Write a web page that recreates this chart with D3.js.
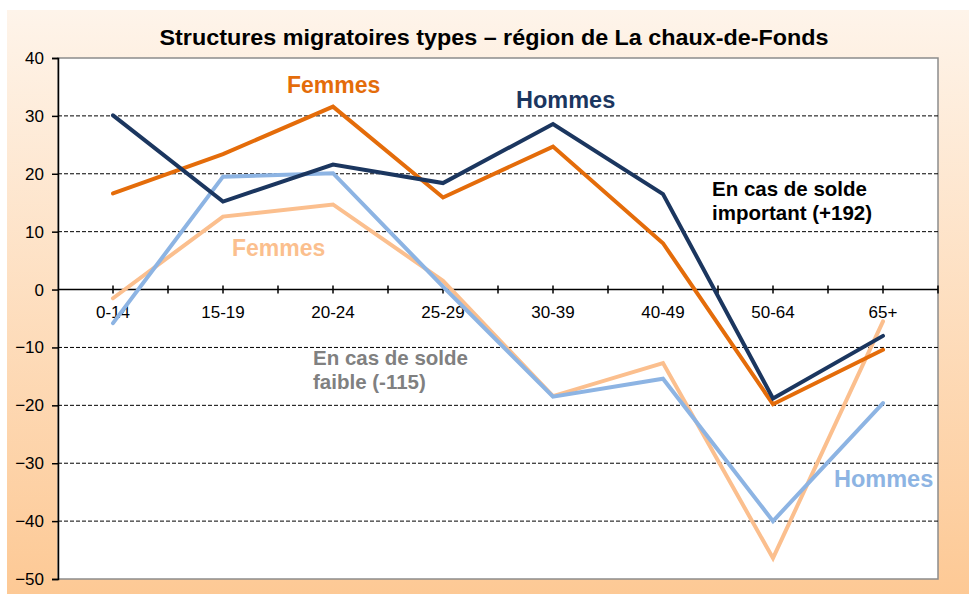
<!DOCTYPE html>
<html>
<head>
<meta charset="utf-8">
<script src="https://cdn.jsdelivr.net/npm/d3@7"></script>
<style>
  body { margin: 0; background: #fff; }
  svg { display: block; font-family: "Liberation Sans", Arial, sans-serif; }
</style>
</head>
<body>
<svg id="chart" width="969" height="594"></svg>
<script>
// age groups
const categories = ["0-14", "15-19", "20-24", "25-29", "30-39", "40-49", "50-64", "65+"];
const yTicks = [40, 30, 20, 10, 0, -10, -20, -30, -40, -50];

// strong balance (+192)
const hommesFort = [30.1, 15.2, 21.6, 18.4, 28.6, 16.5, -18.8, -8.0];
const femmesFort = [16.6, 23.4, 31.6, 15.9, 24.7, 8.0, -19.8, -10.4];
// weak balance (-115)
const hommesFaible = [-5.8, 19.5, 20.1, 0.5, -18.5, -15.4, -40.0, -19.6];
const femmesFaible = [-1.5, 12.6, 14.7, 1.5, -18.4, -12.7, -46.4, -5.5];

const svg = d3.select("#chart");
const margin = { left: 58, top: 58, right: 938, bottom: 579 };

// background panel with gradient
const defs = svg.append("defs");
const grad = defs.append("linearGradient")
	.attr("id", "bg")
	.attr("x1", 0).attr("y1", 0).attr("x2", 0).attr("y2", 1);
grad.append("stop").attr("offset", "0%").attr("stop-color", "#fef4ea");
grad.append("stop").attr("offset", "100%").attr("stop-color", "#fdc995");

svg.append("rect")
	.attr("x", 7).attr("y", 10)
	.attr("width", 969 - 7).attr("height", 594 - 10)
	.attr("fill", "url(#bg)");

const x = d3.scaleBand()
	.domain(categories)
	.range([margin.left, margin.right]);
const y = d3.scaleLinear()
	.domain([-50, 40])
	.range([margin.bottom, margin.top]);

// plot area
svg.append("rect")
	.attr("x", margin.left).attr("y", margin.top)
	.attr("width", margin.right - margin.left)
	.attr("height", margin.bottom - margin.top)
	.attr("fill", "#fff")
	.attr("stroke", "#8c8c8c")
	.attr("stroke-width", 1.5);

// title
svg.append("text")
	.attr("x", 494).attr("y", 45)
	.attr("text-anchor", "middle")
	.attr("font-size", 22)
	.attr("font-weight", "bold")
	.attr("textLength", 669)
	.attr("lengthAdjust", "spacingAndGlyphs")
	.attr("fill", "#000")
	.text("Structures migratoires types – région de La chaux-de-Fonds");

// grid
svg.append("g")
	.selectAll("line")
	.data(yTicks.filter(d => d !== 0 && d !== 40 && d !== -50))
	.enter().append("line")
	.attr("x1", margin.left).attr("x2", margin.right)
	.attr("y1", d => y(d)).attr("y2", d => y(d))
	.attr("stroke", "#000")
	.attr("stroke-width", 1)
	.attr("stroke-dasharray", "4,2");

// y axis
const yAxis = svg.append("g")
	.attr("transform", `translate(${margin.left},0)`)
	.call(d3.axisLeft(y).tickValues(yTicks).tickSize(6).tickPadding(8));
yAxis.select(".domain").attr("stroke", "#000").attr("stroke-width", 1.5);
yAxis.selectAll(".tick line").attr("stroke", "#000").attr("stroke-width", 1.5);
yAxis.selectAll("text")
	.attr("font-size", 17)
	.attr("font-family", "Liberation Sans, Arial, sans-serif")
	.attr("fill", "#000");

// zero axis
const xTickPos = d3.range(0, categories.length * 2 + 1).map(i => margin.left + i * x.bandwidth() / 2);
svg.append("line")
	.attr("x1", margin.left).attr("x2", margin.right)
	.attr("y1", y(0)).attr("y2", y(0))
	.attr("stroke", "#000").attr("stroke-width", 1.5);
svg.append("g")
	.selectAll("line")
	.data(xTickPos.slice(1))
	.enter().append("line")
	.attr("x1", d => d).attr("x2", d => d)
	.attr("y1", y(0) - 4).attr("y2", y(0) + 4)
	.attr("stroke", "#000").attr("stroke-width", 1.5);
svg.append("g")
	.selectAll("text")
	.data(categories)
	.enter().append("text")
	.attr("x", d => x(d) + x.bandwidth() / 2)
	.attr("y", y(0) + 28)
	.attr("text-anchor", "middle")
	.attr("font-size", 17)
	.attr("fill", "#000")
	.text(d => d);

// lines
const line = d3.line()
	.x((d, i) => x(categories[i]) + x.bandwidth() / 2)
	.y(d => y(d));

const series = [
	{ values: femmesFaible, color: "#fbbf8e" },
	{ values: hommesFaible, color: "#8db4e3" },
	{ values: femmesFort, color: "#e46c0a" },
	{ values: hommesFort, color: "#1b365f" }
];
series.forEach(s => {
	svg.append("path")
		.datum(s.values)
		.attr("fill", "none")
		.attr("stroke", s.color)
		.attr("stroke-width", 4)
		.attr("stroke-linejoin", "miter")
		.attr("stroke-linecap", "round")
		.attr("d", line);
});

// annotations
const labels = [
	{ text: "Femmes", x: 287, y: 93, color: "#e46c0a", size: 23 },
	{ text: "Hommes", x: 516, y: 108, color: "#1b365f", size: 23.5 },
	{ text: "Femmes", x: 232, y: 256, color: "#fbbf8e", size: 23 },
	{ text: "Hommes", x: 834, y: 487, color: "#8db4e3", size: 23.5 },
	{ text: "En cas de solde", x: 712, y: 196, color: "#000", size: 20.5 },
	{ text: "important (+192)", x: 712, y: 220, color: "#000", size: 20.5 },
	{ text: "En cas de solde", x: 313, y: 365, color: "#808080", size: 20.5 },
	{ text: "faible (-115)", x: 313, y: 389, color: "#808080", size: 20.5 }
];
svg.append("g")
	.selectAll("text")
	.data(labels)
	.enter().append("text")
	.attr("x", d => d.x).attr("y", d => d.y)
	.attr("font-size", d => d.size)
	.attr("font-weight", "bold")
	.attr("fill", d => d.color)
	.text(d => d.text);
</script>
</body>
</html>
